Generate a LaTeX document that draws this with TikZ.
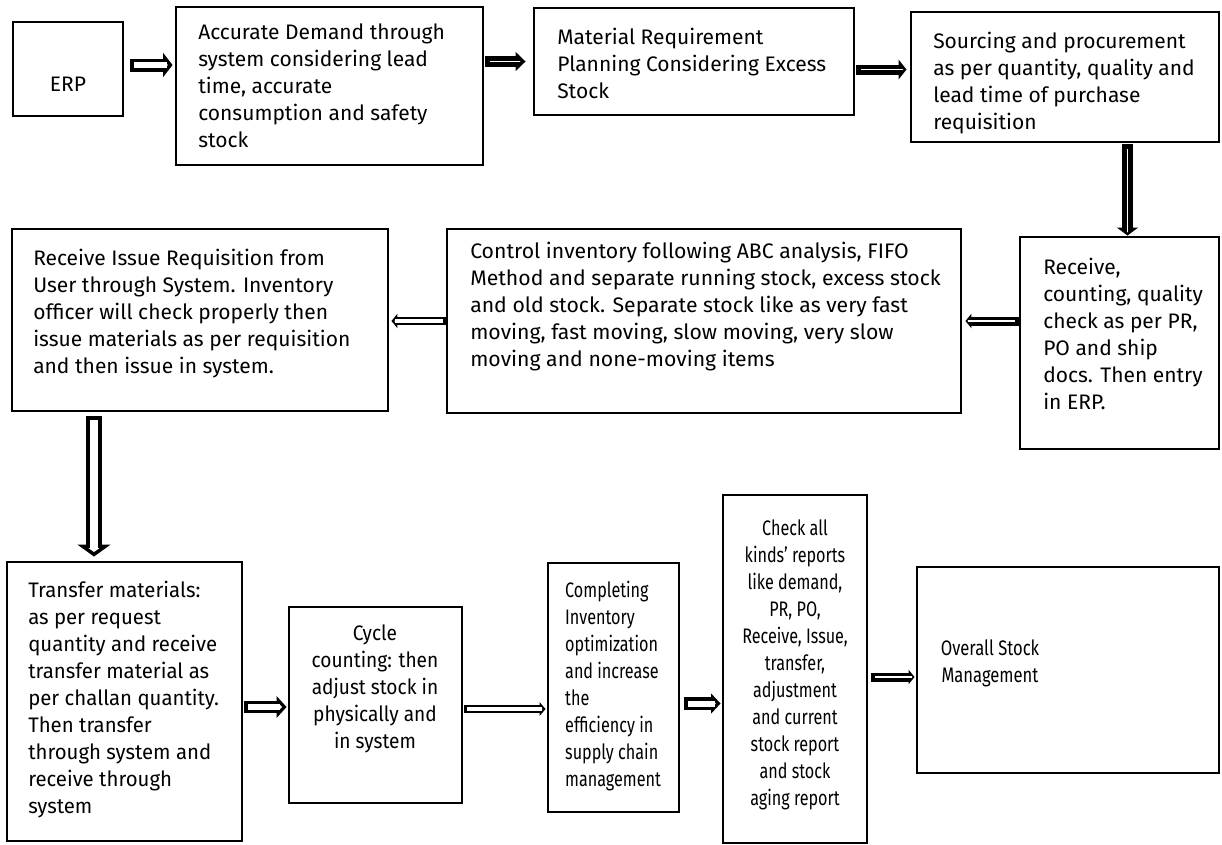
\documentclass[tikz,border=0pt]{standalone}
\usepackage{fontspec}
\setmainfont{Fira Sans}
\usetikzlibrary{arrows.meta}
\usetikzlibrary{fit}
\usetikzlibrary{calc}

\tikzset{
  % block arrow: shaft width, inner width, head length, head width (pt)
  blk/.code n args={4}{%
    \pgfmathsetmacro\bb{(#1-#2)/2}%
    \pgfmathsetmacro\bt{min(\bb*sqrt(1+(2*#3/#4)^2), #3-\bb-0.2)}%
    \pgfmathsetmacro\bL{#3-\bb-\bt}%
    \pgfmathsetmacro\bW{#4*\bL/#3}%
    \edef\blkopts{draw=black, line width=#1pt, -{Triangle[length=#3pt, width=#4pt, line width=0pt]},
      postaction={draw=white, line width=#2pt, shorten <=\bb pt, shorten >=\bt pt,
        -{Triangle[length=\bL pt, width=\bW pt, line width=0pt]}}}%
    \expandafter\tikzset\expandafter{\blkopts}}
}

\begin{document}
\begin{tikzpicture}[x=0.75pt, y=-0.75pt,
    box/.style={draw=black, line width=2.2pt, inner sep=0pt},
    txt/.style={inner sep=0pt, align=left, anchor=north west, font=\fontsize{15.75}{20.25}\selectfont},
    ctxt/.style={txt, align=center, anchor=north},
    squeeze/.style={xscale=#1, transform shape}]
\useasboundingbox (0,0) rectangle (1222,844);

% boxes
\node[box, fit={(13,22) (123,116)}] (erp) {};
\node[box, fit={(176,7) (483,165)}] (acc) {};
\node[box, fit={(534,8) (854,115)}] (mat) {};
\node[box, fit={(911,12) (1219,142)}] (src) {};
\node[box, fit={(1020,237) (1219,449)}] (rcv) {};
\node[box, fit={(447,229) (961,413)}] (ctl) {};
\node[box, fit={(12,229) (388,411)}] (riq) {};
\node[box, fit={(7,562) (242,841)}] (trf) {};
\node[box, fit={(289,607) (462,803)}] (cyc) {};
\node[box, fit={(548,563) (679,812)}] (cmp) {};
\node[box, fit={(723,495) (867,843)}] (chk) {};
\node[box, fit={(917,567) (1219,773)}] (ovr) {};

% texts
\node[ctxt] (erp-t) at (68,77) {ERP};
\node[txt] (acc-t) at (198,23) {Accurate Demand through\\system considering lead\\time, accurate\\consumption and safety\\stock};
\node[txt] (mat-t) at (557,28) {Material Requirement\\Planning Considering Excess\\Stock};
\node[txt] (src-t) at (933,32) {Sourcing and procurement\\as per quantity, quality and\\lead time of purchase\\requisition};
\node[txt] (rcv-t) at (1043,258) {Receive,\\counting, quality\\check as per PR,\\PO and ship\\docs. Then entry\\in ERP.};
\node[txt, squeeze=1.01] (ctl-t) at (470,242) {Control inventory following ABC analysis, FIFO\\Method and separate running stock, excess stock\\and old stock. Separate stock like as very fast\\moving, fast moving, slow moving, very slow\\moving and none-moving items};
\node[txt] (riq-t) at (33,249) {Receive Issue Requisition from\\User through System. Inventory\\officer will check properly then\\issue materials as per requisition\\and then issue in system.};
\node[txt, squeeze=0.97] (trf-t) at (28,581) {Transfer materials:\\as per request\\quantity and receive\\transfer material as\\per challan quantity.\\Then transfer\\through system and\\receive through\\system};
\node[ctxt, squeeze=0.91] (cyc-t) at (375,624) {Cycle\\counting: then\\adjust stock in\\physically and\\in system};
\node[txt, squeeze=0.77] (cmp-t) at (565,581) {Completing\\Inventory\\optimization\\and increase\\the\\efficiency in\\supply chain\\management};
\node[ctxt, squeeze=0.77] (chk-t) at (795,519) {Check all\\kinds’ reports\\like demand,\\PR, PO,\\Receive, Issue,\\transfer,\\adjustment\\and current\\stock report\\and stock\\aging report};
\node[ctxt, squeeze=0.79] (ovr-t) at (990,639) {Overall Stock\\Management};

% arrows
\draw[blk={9.75}{4.1}{7}{18}] ($(erp.east)+(6,-4)$) -- ($(erp.east -| acc.west)+(-2,-4)$);
\draw[blk={8.25}{1}{7.5}{14.5}] ($(acc.east |- mat.west)+(1,0)$) -- ($(mat.west)+(-7,0)$);
\draw[blk={7.5}{0.9}{6}{15}] ($(mat.east)+(1,8)$) -- ($(mat.east -| src.west)+(-3,8)$);
\draw[blk={8.25}{1}{6}{16}] ($(src.south -| rcv.north)+(8,1)$) -- ($(rcv.north)+(8,0)$);
\draw[blk={6.75}{0.8}{4.5}{11}] (rcv.west |- ctl.east) -- ($(ctl.east)+(3,0)$);
\draw[blk={6}{2.5}{4.5}{11}] (ctl.west) -- ($(ctl.west -| riq.east)+(2,0)$);
\draw[blk={12}{6.5}{9}{25}] ($(riq.south -| trf.north)+(-30.5,4)$) -- ($(trf.north)+(-30.5,-4)$);
\draw[blk={9}{4}{7.5}{16.5}] ($(trf.east |- cyc.west)+(1,2)$) -- ($(cyc.west)+(-1,2)$);
\draw[blk={6}{2.5}{4.5}{10.5}] ($(cyc.east)+(1,4)$) -- ($(cyc.east -| cmp.west)+(-1,4)$);
\draw[blk={9.75}{4.5}{7}{15}] ($(cmp.east)+(4,16)$) -- ($(cmp.east -| chk.west)+(-1,16)$);
\draw[blk={6.75}{0.9}{4.5}{11}] ($(chk.east)+(3,8)$) -- ($(chk.east -| ovr.west)+(-1,8)$);
\end{tikzpicture}
\end{document}
